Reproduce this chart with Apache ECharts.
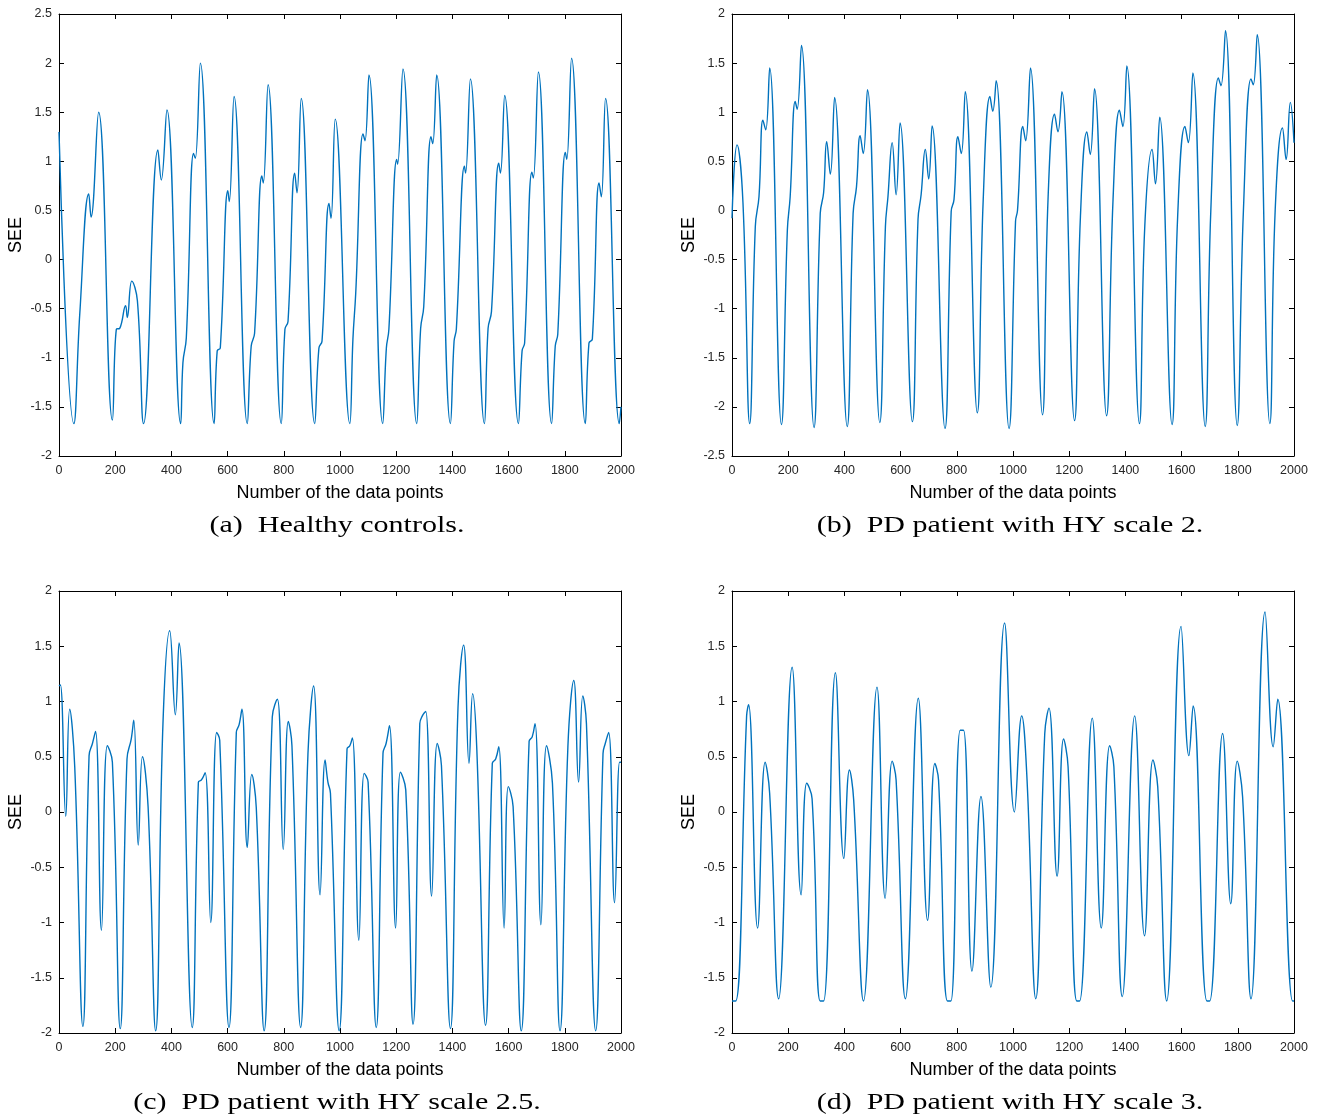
<!DOCTYPE html>
<html>
<head>
<meta charset="utf-8">
<script src="https://cdn.jsdelivr.net/npm/echarts@6/dist/echarts.min.js"></script>
<style>
  html, body { margin: 0; padding: 0; background: #fff; }
  #chart { width: 1320px; height: 1119px; }
</style>
</head>
<body>
<div id="chart"></div>
<script>
// SEE traces (turning points of each recording), x = data point index
const healthyX = [0, 53, 74, 106, 114, 141, 190, 204, 216, 237, 243, 259, 279, 301, 352, 364, 384, 433, 441, 453, 479, 485, 503,
  552, 563, 574, 601, 606, 623, 670, 684, 696, 722, 727, 744, 791, 804, 815, 839, 847, 862, 910, 925, 936, 961, 968, 983,
  1035, 1046, 1056, 1082, 1089, 1103, 1152, 1165, 1174, 1202, 1205, 1224, 1273, 1287, 1298, 1324, 1330, 1344,
  1393, 1406, 1414, 1443, 1447, 1464, 1514, 1527, 1539, 1565, 1571, 1586, 1635, 1648, 1657, 1683, 1688, 1706,
  1753, 1766, 1775, 1802, 1807, 1824, 1873, 1886, 1898, 1922, 1930, 1945, 1994, 2000];
const healthyY = [1.30, -1.67, -0.55, 0.667, 0.433, 1.50, -1.634, -0.71, -0.70, -0.47, -0.59, -0.22, -0.42, -1.67, 1.117, 0.81, 1.524, -1.67, -1.05, -0.80, 1.08, 1.03, 2.00,
  -1.67, -0.93, -0.90, 0.70, 0.59, 1.66, -1.67, -0.88, -0.75, 0.85, 0.78, 1.78, -1.67, -0.71, -0.63, 0.88, 0.68, 1.64, -1.67, -0.90, -0.83, 0.57, 0.42, 1.43,
  -1.67, -0.81, -0.34, 1.28, 1.21, 1.88, -1.67, -0.90, -0.71, 1.02, 0.97, 1.94, -1.67, -0.70, -0.48, 1.25, 1.18, 1.88,
  -1.67, -0.83, -0.71, 0.95, 0.88, 1.84, -1.67, -0.70, -0.53, 0.98, 0.88, 1.67, -1.67, -0.93, -0.85, 0.89, 0.83, 1.91,
  -1.67, -0.88, -0.76, 1.09, 1.02, 2.05, -1.67, -0.85, -0.81, 0.78, 0.64, 1.64, -1.67, -1.50];

const hy2X = [0, 18, 39, 63, 83, 96, 110, 120, 134, 176, 197, 207, 225, 232, 247, 292, 314, 326, 337, 350, 365,
  410, 431, 443, 456, 467, 482, 526, 546, 555, 570, 584, 598, 642, 662, 673, 688, 700, 712, 758, 780, 790, 804, 816, 830,
  873, 894, 918, 928, 940, 986, 1009, 1016, 1035, 1045, 1062, 1105, 1125, 1148, 1160, 1174, 1219, 1240, 1263, 1275, 1290,
  1333, 1356, 1379, 1391, 1405, 1450, 1469, 1495, 1507, 1522, 1566, 1586, 1612, 1624, 1640, 1684, 1704, 1731, 1740, 1756,
  1798, 1820, 1847, 1855, 1869, 1914, 1933, 1959, 1972, 1987, 2000];
const hy2Y = [-0.08, 0.668, 0.08, -2.17, -0.16, 0.14, 0.92, 0.82, 1.45, -2.18, -0.20, 0.14, 1.11, 1.03, 1.68, -2.21, -0.03, 0.18, 0.70, 0.37, 1.15,
  -2.20, -0.03, 0.24, 0.76, 0.58, 1.23, -2.16, -0.16, 0.14, 0.69, 0.16, 0.89, -2.15, -0.09, 0.16, 0.62, 0.32, 0.86, -2.22, -0.01, 0.11, 0.75, 0.58, 1.21,
  -2.06, 0.11, 1.16, 1.01, 1.32, -2.22, -0.11, 0.0, 0.855, 0.71, 1.45, -2.08, 0.14, 0.98, 0.80, 1.21, -2.14, -0.06, 0.80, 0.57, 1.24,
  -2.09, 0.11, 1.02, 0.855, 1.47, -2.17, -0.16, 0.62, 0.27, 0.95, -2.18, -0.06, 0.855, 0.69, 1.40, -2.20, 0.0, 1.35, 1.27, 1.83,
  -2.19, 0.0, 1.34, 1.28, 1.79, -2.17, 0.0, 0.84, 0.52, 1.10, 0.69];

const hy25X = [0, 5, 24, 38, 56, 85, 107, 119, 130, 151, 172, 190, 218, 242, 257, 266, 282, 297, 317, 344, 370, 394, 414, 427,
  474, 496, 507, 520, 540, 561, 572, 605, 631, 641, 651, 670, 686, 702, 730, 759, 777, 798, 816, 829, 860, 886, 906, 929, 947, 957, 966,
  997, 1025, 1035, 1044, 1067, 1086, 1100, 1129, 1153, 1164, 1176, 1198, 1215, 1234, 1260, 1284, 1293, 1305, 1326, 1346, 1361,
  1393, 1420, 1440, 1459, 1472, 1487, 1518, 1542, 1554, 1565, 1584, 1599, 1616, 1645, 1673, 1684, 1694, 1715, 1735, 1756,
  1783, 1811, 1832, 1849, 1864, 1877, 1910, 1936, 1944, 1956, 1977, 1995, 2000];
const hy25Y = [1.14, 1.15, -0.04, 0.93, 0.41, -1.94, 0.51, 0.62, 0.73, -1.07, 0.60, 0.45, -1.96, 0.48, 0.66, 0.83, -0.30, 0.50, 0.05, -1.98, 0.80, 1.64, 0.88, 1.53,
  -1.95, 0.27, 0.29, 0.355, -1.00, 0.72, 0.65, -1.95, 0.72, 0.79, 0.93, -0.32, 0.34, 0.04, -1.98, 0.86, 1.02, -0.34, 0.82, 0.60, -1.95, 0.53, 1.14, -0.75, 0.47, 0.27, 0.17,
  -1.98, 0.57, 0.60, 0.67, -1.16, 0.35, 0.27, -1.95, 0.53, 0.62, 0.78, -1.05, 0.36, 0.20, -1.92, 0.80, 0.87, 0.91, -0.76, 0.62, 0.42,
  -1.96, 0.95, 1.51, 0.44, 1.07, 0.56, -1.93, 0.44, 0.48, 0.59, -1.05, 0.23, 0.05, -1.98, 0.64, 0.68, 0.80, -1.02, 0.60, 0.26,
  -1.98, 0.59, 1.19, 0.27, 1.05, 0.80, -1.98, 0.53, 0.62, 0.72, -0.82, 0.45, 0.45];

const hy3X = [0, 13, 52, 59, 91, 118, 134, 166, 214, 246, 266, 285, 314, 326, 368, 398, 418, 433, 468, 516, 545, 570, 584,
  617, 663, 696, 722, 735, 767, 779, 812, 824, 854, 886, 921, 970, 1005, 1031, 1050, 1081, 1113, 1128, 1157, 1180, 1196,
  1227, 1237, 1282, 1314, 1344, 1359, 1389, 1433, 1468, 1498, 1515, 1547, 1598, 1626, 1641, 1690, 1700, 1746, 1775, 1798, 1817,
  1847, 1897, 1926, 1942, 1995, 2000];
const hy3Y = [-1.71, -1.71, 0.87, 0.97, -1.05, 0.45, 0.17, -1.69, 1.31, -0.75, 0.26, 0.12, -1.71, -1.71, 1.26, -0.42, 0.38, 0.11, -1.71, 1.13, -0.78, 0.46, 0.29,
  -1.69, 1.03, -0.98, 0.44, 0.29, -1.71, -1.71, 0.74, 0.74, -1.44, 0.14, -1.585, 1.71, 0.0, 0.87, 0.29, -1.69, 0.71, 0.94, -0.58, 0.66, 0.41,
  -1.71, -1.71, 0.85, -1.05, 0.60, 0.41, -1.67, 0.87, -1.12, 0.47, 0.23, -1.71, 1.68, 0.51, 0.96, -1.71, -1.71, 0.71, -0.83, 0.46, 0.14,
  -1.69, 1.81, 0.59, 1.02, -1.71, -1.71];

// axis ranges per panel: [min, max]
const yRangeA = [-2, 2.5];
const yRangeB = [-2.5, 2];
const yRangeC = [-2, 2];
const yRangeD = [-2, 2];
const yStep = 0.5;
const xRange = [0, 2000];
const xStep = 200;

const captions = ['(a)  Healthy controls.', '(b)  PD patient with HY scale 2.', '(c)  PD patient with HY scale 2.5.', '(d)  PD patient with HY scale 3.'];
const xTitle = 'Number of the data points';
const yTitle = 'SEE';

const panels = [
  { xs: healthyX, ys: healthyY, yr: yRangeA, left: 59, top: 14 },
  { xs: hy2X, ys: hy2Y, yr: yRangeB, left: 732, top: 14 },
  { xs: hy25X, ys: hy25Y, yr: yRangeC, left: 59, top: 591 },
  { xs: hy3X, ys: hy3Y, yr: yRangeD, left: 732, top: 591 }
];
const W = 562, H = 442;
const LINE = '#0072BD';
const TXT = '#262626';
const SANS = '"Liberation Sans", Arial, sans-serif';
const plain = v => String(v);

const grid = [], xAxis = [], yAxis = [], series = [];
panels.forEach((p, i) => {
  grid.push({ left: p.left, top: p.top, width: W, height: H, show: false });
  const axLine = { show: true, onZero: false, lineStyle: { color: '#000', width: 1 } };
  const tick = { show: true, inside: true, length: 5, lineStyle: { color: '#000', width: 1 } };
  // bottom and top x axes (top one only carries tick marks)
  xAxis.push({
    type: 'value', gridIndex: i, position: 'bottom', min: xRange[0], max: xRange[1], interval: xStep,
    axisLine: axLine, axisTick: tick, splitLine: { show: false },
    axisLabel: { color: TXT, fontFamily: SANS, fontSize: 12.5, margin: 8, formatter: plain },
    name: xTitle, nameLocation: 'middle', nameGap: 28,
    nameTextStyle: { color: '#000', fontFamily: SANS, fontSize: 18 }
  });
  xAxis.push({
    type: 'value', gridIndex: i, position: 'top', min: xRange[0], max: xRange[1], interval: xStep,
    axisLine: axLine, axisTick: tick, splitLine: { show: false }, axisLabel: { show: false }
  });
  yAxis.push({
    type: 'value', gridIndex: i, position: 'left', min: p.yr[0], max: p.yr[1], interval: yStep,
    axisLine: axLine, axisTick: tick, splitLine: { show: false },
    axisLabel: { color: TXT, fontFamily: SANS, fontSize: 12.5, margin: 7, formatter: plain },
    name: yTitle, nameLocation: 'middle', nameGap: 34,
    nameTextStyle: { color: '#000', fontFamily: SANS, fontSize: 18 }
  });
  yAxis.push({
    type: 'value', gridIndex: i, position: 'right', min: p.yr[0], max: p.yr[1], interval: yStep,
    axisLine: axLine, axisTick: tick, splitLine: { show: false }, axisLabel: { show: false }
  });
  series.push({
    type: 'line', xAxisIndex: i * 2, yAxisIndex: i * 2,
    data: p.xs.map((x, k) => [x, p.ys[k]]),
    showSymbol: false, smooth: 0.45, clip: true,
    lineStyle: { color: LINE, width: 1.4 }
  });
});

const chart = echarts.init(document.getElementById('chart'), null, { renderer: 'canvas' });
chart.setOption({
  animation: false,
  backgroundColor: '#fff',
  grid, xAxis, yAxis, series,
  // subfigure captions, stretched a little to the width of the typeset originals
  graphic: panels.map((p, i) => ({
    type: 'text',
    x: p.left + W / 2 - 3, y: p.top + H + 70,
    scaleX: 1.25,
    style: { text: captions[i], font: '24px "Liberation Serif", "Times New Roman", serif', fill: '#000', align: 'center', verticalAlign: 'middle' }
  }))
});
</script>
</body>
</html>
